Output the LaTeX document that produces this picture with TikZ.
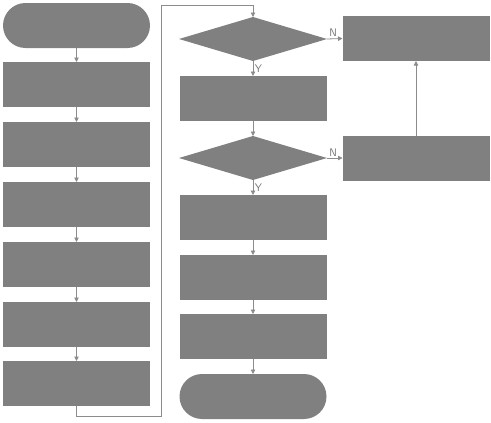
\documentclass[tikz,border=0pt]{standalone}
\usepackage{xcolor}
\usetikzlibrary{arrows.meta,positioning,shapes.geometric}
\definecolor{boxgray}{HTML}{808080}
\definecolor{linegray}{HTML}{8C8C8C}
\definecolor{textgray}{HTML}{757575}
\begin{document}
\begin{tikzpicture}[
  x=1pt, y=-1pt,
  box/.style={fill=boxgray, draw=none, inner sep=0pt, outer sep=0pt, minimum width=147pt, minimum height=45pt},
  term/.style={box, rounded corners=22.5pt},
  decide/.style={diamond, fill=boxgray, draw=none, inner sep=0pt, outer sep=0pt, minimum width=148pt, minimum height=44pt, aspect=3.36},
  arrow/.style={-{Triangle[length=4.5pt,width=4.5pt]}, draw=linegray, line width=0.8pt},
  lbl/.style={text=textgray, font=\sffamily\fontsize{11}{12}\selectfont, inner sep=1.5pt}
]
\useasboundingbox (0,0) rectangle (491,423);
% left column
\node[term] (start) at (76.5,25.5) {};
\node[box] (stepA) at (76.5,84.5) {};
\node[box] (stepB) at (76.5,144.5) {};
\node[box] (stepC) at (76.5,204.5) {};
\node[box] (stepD) at (76.5,264.5) {};
\node[box] (stepE) at (76.5,324.5) {};
\node[box] (stepF) at (76.5,383.5) {};
% middle column
\node[decide] (askA) at (253,39) {};
\node[box] (doA) at (253,98.5) {};
\node[decide] (askB) at (253,158) {};
\node[box] (doB) at (253,217.5) {};
\node[box] (doC) at (253,277.5) {};
\node[box] (doD) at (253,336.5) {};
\node[term] (finish) at (253,396.5) {};
% right column
\node[box] (fixA) at (416,38.5) {};
\node[box] (fixB) at (416,158) {};

\draw[arrow] (start) -- (stepA);
\draw[arrow] (stepA) -- (stepB);
\draw[arrow] (stepB) -- (stepC);
\draw[arrow] (stepC) -- (stepD);
\draw[arrow] (stepD) -- (stepE);
\draw[arrow] (stepE) -- (stepF);

\coordinate (loopA) at (161,416);
\coordinate (loopB) at (161,5);
\draw[arrow] (stepF.south) |- (loopA) -- (loopB) -| (askA.north);

\draw[arrow] (askA.south) -- node[lbl, right, pos=0.5] {Y} (doA.north);
\draw[arrow] (doA) -- (askB);
\draw[arrow] (askB.south) -- node[lbl, right, pos=0.5] {Y} (doB.north);
\draw[arrow] (doB) -- (doC);
\draw[arrow] (doC) -- (doD);
\draw[arrow] (doD) -- (finish);

\draw[arrow] (askA.east) -- node[lbl, above, pos=0.4] {N} (fixA.west);
\draw[arrow] (askB.east) -- node[lbl, above, pos=0.4] {N} (fixB.west);
\draw[arrow] (fixB) -- (fixA);
\end{tikzpicture}
\end{document}
